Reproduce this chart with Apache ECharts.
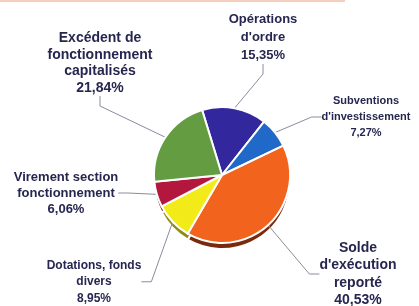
<!DOCTYPE html>
<html>
<head>
<meta charset="utf-8">
<script src="https://cdn.jsdelivr.net/npm/echarts@6/dist/echarts.min.js"></script>
<style>
html,body{margin:0;padding:0;background:#fff;}
#chart{width:419px;height:306px;}
</style>
</head>
<body>
<div id="chart"></div>
<script>
// ---- data ----
const categories = [
  "Opérations\nd'ordre",
  "Subventions\nd'investissement",
  "Solde\nd'exécution\nreporté",
  "Dotations, fonds\ndivers",
  "Virement section\nfonctionnement",
  "Excédent de\nfonctionnement\ncapitalisés"
];
const values = [15.35, 7.27, 40.53, 8.95, 6.06, 21.84];

// ---- styling (not data) ----
const colors = ['#33279e', '#2169c8', '#f2641e', '#f3ea1a', '#b3173e', '#649c42'];
const darkColors = ['#1c1560', '#143f7a', '#7a2a0c', '#8f8a10', '#6a0d24', '#3a5c26'];
const labelStyle = [
  {x: 263, y: 10, size: 13, lh: 18},
  {x: 366, y: 93, size: 11, lh: 16},
  {x: 358, y: 239, size: 14, lh: 17.5},
  {x: 94, y: 257, size: 12, lh: 16.5},
  {x: 66, y: 169, size: 13, lh: 16},
  {x: 100, y: 30, size: 14, lh: 16.5}
];

const fmt = v => v.toFixed(2).replace('.', ',') + '%';

const topData = categories.map((c, i) => ({
  name: c,
  value: values[i],
  itemStyle: {color: colors[i]},
  label: {fontSize: labelStyle[i].size, lineHeight: labelStyle[i].lh}
}));
const depthData = categories.map((c, i) => ({
  name: c,
  value: values[i],
  itemStyle: {color: darkColors[i]}
}));

const chart = echarts.init(document.getElementById('chart'));
chart.setOption({
  animation: false,
  backgroundColor: '#ffffff',
  graphic: [{
    type: 'rect', shape: {x: 0, y: 0, width: 345, height: 2},
    style: {fill: '#f6cfbc'}, silent: true
  }],
  series: [
    {
      type: 'pie',
      center: [222, 181],
      radius: 68,
      startAngle: 107,
      silent: true,
      label: {show: false},
      labelLine: {show: false},
      itemStyle: {borderColor: '#ffffff', borderWidth: 2},
      data: depthData,
      z: 1
    },
    {
      type: 'pie',
      center: [222, 175],
      radius: 68,
      startAngle: 107,
      silent: true,
      avoidLabelOverlap: false,
      itemStyle: {borderColor: '#ffffff', borderWidth: 2},
      label: {
        show: true,
        position: 'outside',
        color: '#262650',
        fontFamily: 'Liberation Sans, Arial, sans-serif',
        fontWeight: 'bold',
        align: 'center',
        formatter: p => p.name + '\n' + fmt(p.value)
      },
      labelLine: {
        show: true,
        length: 10,
        length2: 10,
        lineStyle: {color: '#8a8c9c', width: 1}
      },
      labelLayout: function (params) {
        const s = labelStyle[params.dataIndex];
        return {
          x: s.x,
          y: s.y,
          align: 'center',
          verticalAlign: 'top',
          hideOverlap: false
        };
      },
      data: topData,
      z: 2
    }
  ]
});
</script>
</body>
</html>
